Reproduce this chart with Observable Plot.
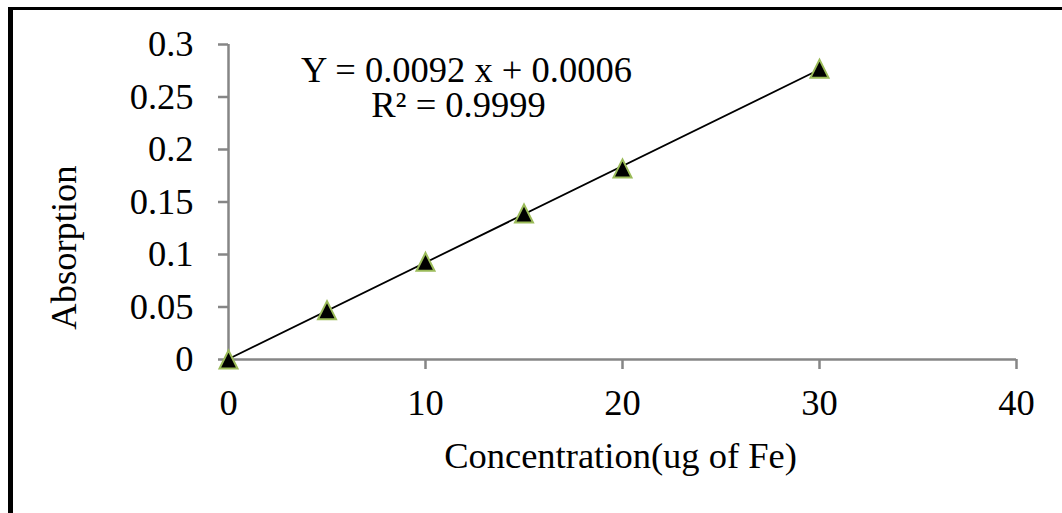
<!DOCTYPE html>
<html><head><meta charset="utf-8">
<script src="https://cdn.jsdelivr.net/npm/d3@7"></script>
<script src="https://cdn.jsdelivr.net/npm/@observablehq/plot@0.6"></script>
<style>
html,body{margin:0;padding:0;background:#fff;overflow:hidden;}
#wrap{position:relative;width:1062px;height:513px;overflow:hidden;}
#frame{position:absolute;left:8px;top:7px;width:1100px;height:600px;border-left:5px solid #000;border-top:3.5px solid #000;pointer-events:none;}
</style></head><body><div id="wrap"><div id="chart"></div><div id="frame"></div></div>
<script>
const concentration = [0, 5, 10, 15, 20, 30];
const absorption = [0, 0.047, 0.093, 0.139, 0.182, 0.277];
const xTicks = [0, 10, 20, 30, 40];
const yTicks = [0, 0.05, 0.1, 0.15, 0.2, 0.25, 0.3];
const equationLine1 = "Y = 0.0092 x + 0.0006";
const equationLine2 = "R² = 0.9999";
const xLabel = "Concentration(ug of Fe)";
const yLabel = "Absorption";

const data = concentration.map((c, i) => ({x: c, y: absorption[i]}));
const font = '"Liberation Serif", "Times New Roman", serif';
const axisGray = "#868686";
const fs = 36.5;
const triangle = {
  draw(context, size) {
    const r = Math.sqrt(size / Math.PI);
    context.moveTo(0, -r);
    context.lineTo(r, r);
    context.lineTo(-r, r);
    context.closePath();
  }
};

const chart = Plot.plot({
  width: 1062,
  height: 513,
  marginLeft: 228,
  marginRight: 46,
  marginTop: 44,
  marginBottom: 154,
  style: {fontFamily: font, fontSize: fs + "px", background: "white", color: "black"},
  x: {domain: [0, 40]},
  y: {domain: [0, 0.3]},
  marks: [
    Plot.ruleX([0], {stroke: axisGray, strokeWidth: 2.5}),
    Plot.ruleY([0], {stroke: axisGray, strokeWidth: 2.5}),
    Plot.axisX({ticks: xTicks, tickFormat: d => String(d), tickSize: 10, tickPadding: 20,
      stroke: axisGray, strokeWidth: 2.5, fill: "black", fontSize: fs, label: null}),
    Plot.axisY({ticks: yTicks, tickFormat: d => String(d), tickSize: 10, tickPadding: 25,
      stroke: axisGray, strokeWidth: 2.5, fill: "black", fontSize: fs, label: null}),
    Plot.linearRegressionY(data, {x: "x", y: "y", ci: 0, stroke: "black", strokeWidth: 1.8}),
    Plot.dot(data, {x: "x", y: "y", symbol: triangle, r: 9, fill: "black", stroke: "#9BBB59", strokeWidth: 2}),
    Plot.text([equationLine1], {frameAnchor: "top-left", text: d => d, textAnchor: "middle", lineAnchor: "bottom",
      dx: 238, dy: 37.5, fontSize: fs, fill: "black"}),
    Plot.text([equationLine2], {frameAnchor: "top-left", text: d => d, textAnchor: "middle", lineAnchor: "bottom",
      dx: 230, dy: 72, fontSize: fs, fill: "black"}),
    Plot.text([xLabel], {frameAnchor: "bottom", text: d => d, textAnchor: "middle", lineAnchor: "bottom",
      dx: -2, dy: 108, fontSize: fs, fill: "black"}),
    Plot.text([yLabel], {frameAnchor: "left", text: d => d, textAnchor: "middle", lineAnchor: "middle",
      rotate: -90, dx: -164, dy: 45.5, fontSize: fs, fill: "black"})
  ]
});
document.getElementById("chart").appendChild(chart);
</script>
</body></html>
